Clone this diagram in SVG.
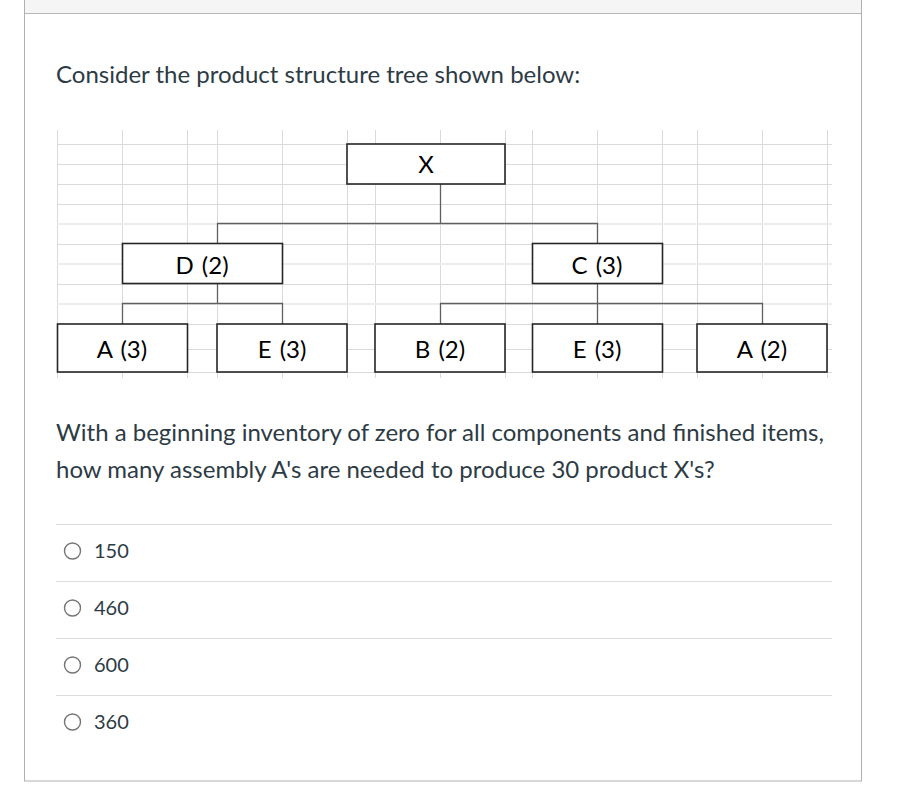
<svg xmlns="http://www.w3.org/2000/svg" width="904" height="790" viewBox="0 0 904 790">
<style>
.q{font-family:Lato,"Open Sans","Liberation Sans",sans-serif;font-size:24px;fill:#2d3b45}
.o{font-family:Lato,"Open Sans","Liberation Sans",sans-serif;font-size:20px;fill:#2d3b45}
.lbl{font-family:Lato,"Open Sans","Liberation Sans",sans-serif;font-size:24px;fill:#000;text-anchor:middle;word-spacing:2px}
.box{fill:#fff;stroke:#262626;stroke-width:1.6}
.g{stroke:#dadada;stroke-width:1}
.g2{stroke:#ededed;stroke-width:2}
.c{stroke:#5f5f5f;stroke-width:1.3;fill:none}
.sep{stroke:#dcdcdc;stroke-width:1}
.rad{fill:#fff;stroke:#767676;stroke-width:1.4}
</style>
<rect x="0" y="0" width="904" height="790" fill="#fff"/>
<rect x="24.5" y="-1" width="837" height="782" fill="#fff" stroke="#b0b0b0" stroke-width="1"/>
<rect x="25" y="0" width="836" height="13" fill="#f5f5f5"/>
<line x1="25" y1="13.5" x2="861" y2="13.5" stroke="#b8b8b8" stroke-width="1"/>
<text class="q" x="56" y="83">Consider the product structure tree shown below:</text>
<g id="grid">
<line class="g" x1="57.5" y1="130" x2="57.5" y2="378"/>
<line class="g" x1="122.5" y1="130" x2="122.5" y2="378"/>
<line class="g" x1="187.5" y1="130" x2="187.5" y2="378"/>
<line class="g" x1="217.5" y1="130" x2="217.5" y2="378"/>
<line class="g" x1="282.5" y1="130" x2="282.5" y2="378"/>
<line class="g" x1="347.5" y1="130" x2="347.5" y2="378"/>
<line class="g" x1="375.5" y1="130" x2="375.5" y2="378"/>
<line class="g" x1="440.5" y1="130" x2="440.5" y2="378"/>
<line class="g" x1="505.5" y1="130" x2="505.5" y2="378"/>
<line class="g" x1="532.5" y1="130" x2="532.5" y2="378"/>
<line class="g" x1="597.5" y1="130" x2="597.5" y2="378"/>
<line class="g" x1="662.5" y1="130" x2="662.5" y2="378"/>
<line class="g" x1="697.5" y1="130" x2="697.5" y2="378"/>
<line class="g" x1="762.5" y1="130" x2="762.5" y2="378"/>
<line class="g" x1="827.5" y1="130" x2="827.5" y2="378"/>
<line class="g" x1="57" y1="144.5" x2="832" y2="144.5"/>
<line class="g" x1="57" y1="164.5" x2="832" y2="164.5"/>
<line class="g" x1="57" y1="184.5" x2="832" y2="184.5"/>
<line class="g" x1="57" y1="204.5" x2="832" y2="204.5"/>
<line class="g2" x1="57" y1="224" x2="832" y2="224"/>
<line class="g" x1="57" y1="244.5" x2="832" y2="244.5"/>
<line class="g2" x1="57" y1="264" x2="832" y2="264"/>
<line class="g" x1="57" y1="284.5" x2="832" y2="284.5"/>
<line class="g2" x1="57" y1="304" x2="832" y2="304"/>
<line class="g" x1="57" y1="324.5" x2="832" y2="324.5"/>
<line class="g" x1="57" y1="349.5" x2="832" y2="349.5"/>
<line class="g" x1="57" y1="372.5" x2="832" y2="372.5"/>
</g>
<g id="connectors">
<path class="c" d="M440.5 184 V223.5 M217.5 243 V223.5 H597.5 V243"/>
<path class="c" d="M217.5 284 V303.5 M122.5 324 V303.5 H282.5 V324"/>
<path class="c" d="M597.5 284 V324 M440.5 324 V303.5 H762.5 V324"/>
</g>
<g id="node-X"><rect class="box" x="347" y="144" width="158" height="40"/><text class="lbl" x="426" y="173">X</text></g>
<g id="node-D"><rect class="box" x="122.5" y="243.5" width="160" height="40"/><text class="lbl" x="202" y="274">D (2)</text></g>
<g id="node-C"><rect class="box" x="532.5" y="243.5" width="130" height="40"/><text class="lbl" x="597" y="274">C (3)</text></g>
<g id="node-A3"><rect class="box" x="57.5" y="324" width="130" height="48"/><text class="lbl" x="122" y="358">A (3)</text></g>
<g id="node-E3a"><rect class="box" x="217" y="324" width="130" height="48"/><text class="lbl" x="282" y="358">E (3)</text></g>
<g id="node-B2"><rect class="box" x="375" y="324" width="130" height="48"/><text class="lbl" x="440" y="358">B (2)</text></g>
<g id="node-E3b"><rect class="box" x="532.5" y="324" width="130" height="48"/><text class="lbl" x="597" y="358">E (3)</text></g>
<g id="node-A2"><rect class="box" x="697" y="324" width="130" height="48"/><text class="lbl" x="762" y="358">A (2)</text></g>
<text class="q" x="56" y="441">With a beginning inventory of zero for all components and finished items,</text>
<text class="q" x="56" y="478">how many assembly A's are needed to produce 30 product X's?</text>
<g id="options">
<line class="sep" x1="56" y1="524.5" x2="832" y2="524.5"/>
<line class="sep" x1="56" y1="581.5" x2="832" y2="581.5"/>
<line class="sep" x1="56" y1="638.5" x2="832" y2="638.5"/>
<line class="sep" x1="56" y1="695.5" x2="832" y2="695.5"/>
<circle class="rad" cx="72.5" cy="551" r="8"/>
<text class="o" x="94" y="557.5">150</text>
<circle class="rad" cx="72.5" cy="608" r="8"/>
<text class="o" x="94" y="614.5">460</text>
<circle class="rad" cx="72.5" cy="665" r="8"/>
<text class="o" x="94" y="671.5">600</text>
<circle class="rad" cx="72.5" cy="722" r="8"/>
<text class="o" x="94" y="728.5">360</text>
</g>
</svg>
